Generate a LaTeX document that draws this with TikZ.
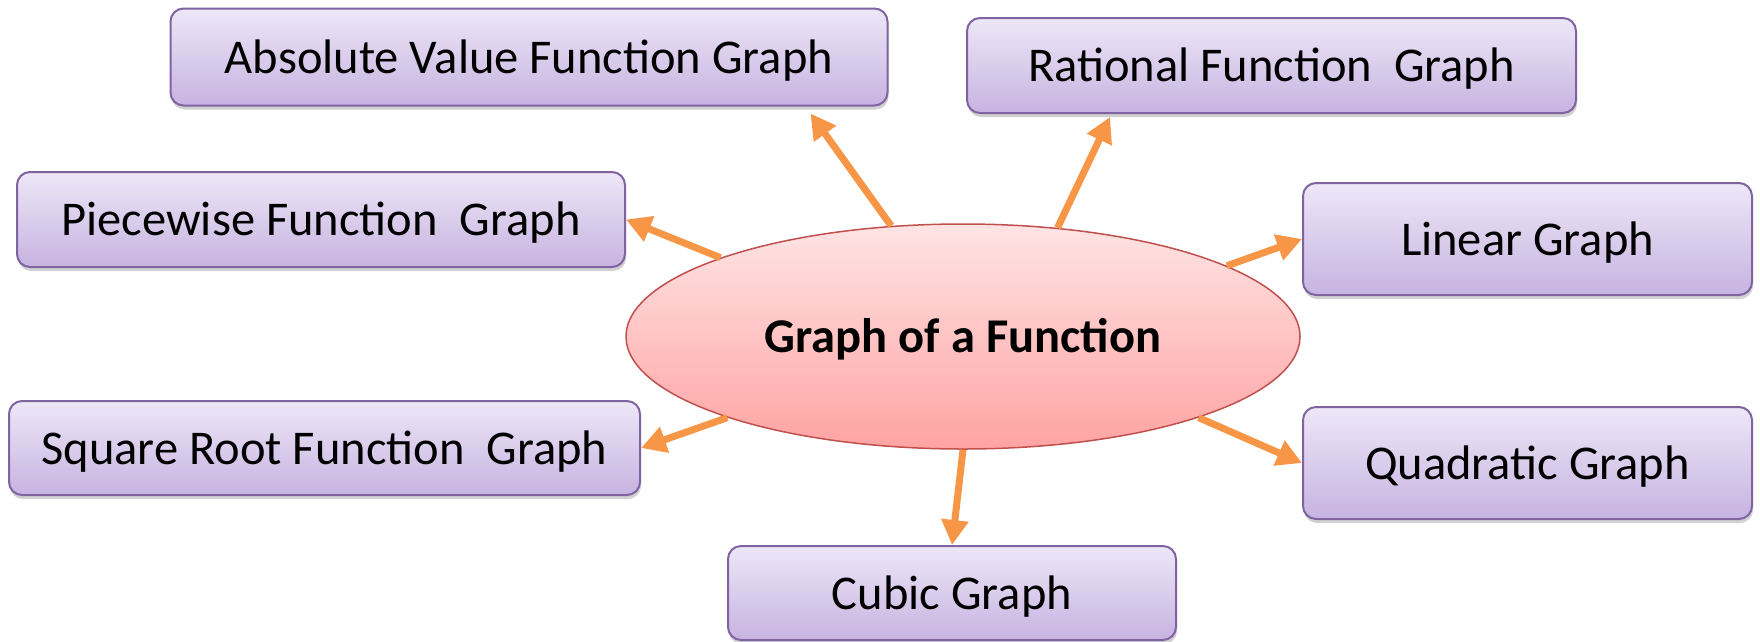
\documentclass[tikz,border=0pt]{standalone}
\usepackage{fontspec}
\setmainfont{Carlito}
\usetikzlibrary{shapes.geometric, arrows.meta, shadows}

\definecolor{boxline}{HTML}{8064A2}
\definecolor{boxtop}{HTML}{EDE7F7}
\definecolor{boxbot}{HTML}{C7B3E1}
\definecolor{hubline}{HTML}{C0504D}
\definecolor{hubtop}{HTML}{FFE4E4}
\definecolor{hubbot}{HTML}{FFA3A3}
\definecolor{arroworange}{HTML}{F79646}

\begin{document}
\begin{tikzpicture}[
    x=1pt, y=-1pt,
    every node/.style={font=\fontsize{48.5}{58}\selectfont, text height=42pt, text depth=10pt},
    graphbox/.style={rectangle, draw=boxline, line width=2pt, rounded corners=13pt, top color=boxtop, bottom color=boxbot, inner sep=0pt,
        drop shadow={shadow xshift=1pt, shadow yshift=-4pt, opacity=0.3, fill=black!60}},
    hub/.style={ellipse, draw=hubline, line width=1.5pt, top color=hubtop, bottom color=hubbot, inner sep=0pt, font=\fontsize{48.5}{58}\selectfont\bfseries},
    arrow/.style={-{Triangle[length=25pt,width=26pt]}, line width=7pt, draw=arroworange}
]
\useasboundingbox (0,0) rectangle (1760,641);

% NODES
\node[hub, minimum width=674pt, minimum height=225pt] (hub) at (963,336.5) {Graph of a Function};
\node[graphbox, minimum width=717pt, minimum height=97pt] (absbox) at (529,57) {Absolute Value Function Graph};
\node[graphbox, minimum width=609pt, minimum height=95pt] (ratbox) at (1271.5,65.5) {Rational Function~ Graph};
\node[graphbox, minimum width=608pt, minimum height=95pt] (piecebox) at (321,219.5) {Piecewise Function~ Graph};
\node[graphbox, minimum width=449pt, minimum height=112pt] (linbox) at (1527.5,239) {Linear Graph};
\node[graphbox, minimum width=631pt, minimum height=94pt] (sqrtbox) at (324.5,448) {Square Root Function~ Graph};
\node[graphbox, minimum width=449pt, minimum height=112pt] (quadbox) at (1527.5,463) {Quadratic Graph};
\node[graphbox, minimum width=448pt, minimum height=94pt] (cubbox) at (952,593) {Cubic Graph};

% ARROWS
\draw[arrow] (hub.123) -- ([xshift=-78pt,yshift=-7pt]absbox.south east);
\draw[arrow] (hub.49) -- ([xshift=144pt,yshift=-3pt]ratbox.south west);
\draw[arrow] (hub.162) -- (piecebox.east);
\draw[arrow] (hub.15) -- (linbox.west);
\draw[arrow] (hub.199) -- (sqrtbox.east);
\draw[arrow] (hub.341) -- (quadbox.west);
\draw[arrow] (hub.south) -- (cubbox.north);

\end{tikzpicture}
\end{document}
